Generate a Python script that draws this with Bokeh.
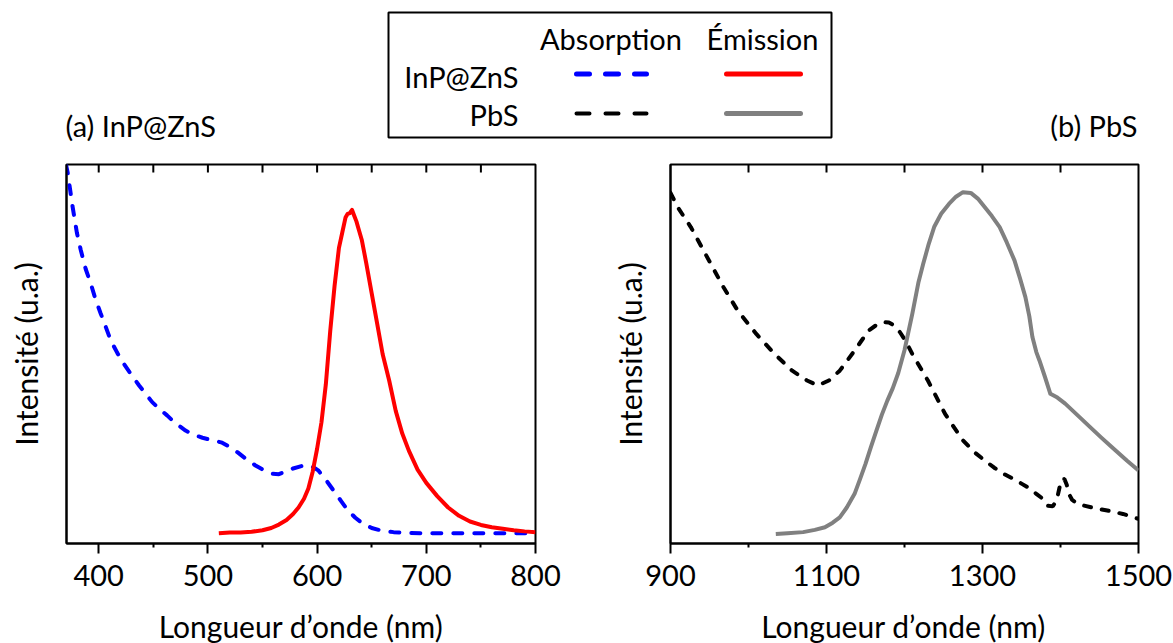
from bokeh.plotting import figure
from bokeh.models import Range1d, LinearAxis, FixedTicker
from bokeh.layouts import column, row
from bokeh.embed import file_html
from bokeh.resources import INLINE
from bokeh.core.properties import value

FONT = "Lato"

# ---------------- data ----------------
# (a) InP@ZnS absorption (blue dashed)
inp_abs_nm = [370, 371.5, 374, 376, 380, 383.5, 388, 392.7, 397, 401.8, 406, 411, 417, 423, 430,
              437, 443, 449, 456, 462.6, 470, 479.5, 487, 495, 505, 513, 520, 527, 535, 544, 552,
              559, 565, 571, 578, 588, 595, 601, 608, 615, 622, 628, 635, 642, 650, 659, 670, 683,
              700, 716, 740, 770, 800]
inp_abs_int = [1.0, 0.98, 0.93, 0.89, 0.82, 0.775, 0.725, 0.686, 0.645, 0.607, 0.575, 0.536, 0.503,
               0.474, 0.445, 0.417, 0.395, 0.373, 0.354, 0.338, 0.318, 0.298, 0.287, 0.279, 0.272,
               0.266, 0.255, 0.241, 0.223, 0.205, 0.192, 0.184, 0.183, 0.190, 0.198, 0.206, 0.204,
               0.193, 0.168, 0.140, 0.112, 0.088, 0.068, 0.052, 0.041, 0.034, 0.030, 0.028, 0.027,
               0.027, 0.027, 0.027, 0.027]

# (a) InP@ZnS emission (red)
inp_em_nm = [510, 520, 530, 540, 550, 558, 565, 572, 578, 583, 588, 592, 596, 600, 604, 608, 612,
             616, 620, 623, 626, 628, 630, 632, 634, 636, 638, 641, 645, 650, 655, 660, 666, 672,
             678, 684, 692, 700, 710, 720, 730, 740, 750, 760, 770, 780, 790, 800]
inp_em_int = [0.027, 0.029, 0.029, 0.031, 0.035, 0.041, 0.050, 0.062, 0.078, 0.095, 0.118, 0.145,
              0.19, 0.25, 0.32, 0.42, 0.56, 0.68, 0.78, 0.82, 0.86, 0.87, 0.872, 0.88, 0.865, 0.85,
              0.83, 0.80, 0.74, 0.66, 0.58, 0.50, 0.43, 0.35, 0.29, 0.245, 0.195, 0.16, 0.125,
              0.095, 0.073, 0.058, 0.049, 0.043, 0.039, 0.035, 0.032, 0.030]

# (b) PbS absorption (black dashed)
pbs_abs_nm = [900, 910, 926, 940, 954, 968, 986, 1010, 1033, 1056, 1075, 1089, 1103, 1117, 1136,
              1154, 1165, 1173, 1180, 1187, 1194, 1201, 1210, 1220, 1230, 1240, 1252, 1264, 1275,
              1290, 1303, 1315, 1327, 1340, 1350, 1360, 1369, 1376, 1383, 1390, 1395, 1399, 1402,
              1405, 1408, 1411, 1415, 1422, 1430, 1445, 1460, 1480, 1500]
pbs_abs_int = [0.925, 0.885, 0.835, 0.782, 0.729, 0.676, 0.615, 0.553, 0.501, 0.456, 0.430, 0.417,
               0.430, 0.456, 0.509, 0.562, 0.578, 0.584, 0.583, 0.575, 0.558, 0.536, 0.50, 0.465,
               0.43, 0.39, 0.342, 0.305, 0.272, 0.24, 0.219, 0.20, 0.184, 0.17, 0.158, 0.146,
               0.131, 0.12, 0.10, 0.098, 0.113, 0.15, 0.17, 0.17, 0.155, 0.13, 0.115, 0.105, 0.100,
               0.093, 0.087, 0.078, 0.065]

# (b) PbS emission (gray)
pbs_em_nm = [1035, 1050, 1070, 1085, 1098, 1108, 1117, 1126, 1136, 1143, 1150, 1157, 1164, 1171,
             1178, 1185, 1192, 1200, 1210, 1218, 1224, 1231, 1238, 1247, 1257, 1266, 1275, 1285,
             1294, 1303, 1312, 1322, 1331, 1341, 1348, 1355, 1360, 1364, 1369, 1373, 1380, 1387,
             1396, 1406, 1420, 1438, 1452, 1466, 1485, 1500]
pbs_em_int = [0.025, 0.027, 0.030, 0.036, 0.043, 0.055, 0.069, 0.095, 0.131, 0.17, 0.21, 0.255,
              0.298, 0.34, 0.377, 0.41, 0.45, 0.51, 0.606, 0.69, 0.738, 0.79, 0.835, 0.87, 0.896,
              0.915, 0.927, 0.925, 0.910, 0.887, 0.864, 0.835, 0.795, 0.747, 0.70, 0.650, 0.60,
              0.545, 0.505, 0.483, 0.44, 0.395, 0.385, 0.369, 0.342, 0.307, 0.28, 0.254, 0.219,
              0.193]

a_ticks = [400, 500, 600, 700, 800]
a_minor = [450, 550, 650, 750]
a_top = [400, 450, 500, 550, 600, 650, 700, 750]
b_ticks = [900, 1100, 1300, 1500]
b_minor = [1000, 1200, 1400]
b_top = [1000, 1100, 1200, 1300, 1400]

x_label = "Longueur d’onde (nm)"
y_label = "Intensité (u.a.)"
legend_cols = ["Absorption", "Émission"]
legend_rows = ["InP@ZnS", "PbS"]
titles = ["(a) InP@ZnS", "(b) PbS"]

TOP_H = 146
ROW_H = 454
STRIP_H = 643 - TOP_H - ROW_H

# ---------------- top band: legend + panel titles ----------------
top = figure(width=1173, height=TOP_H, x_range=Range1d(0, 1173), y_range=Range1d(TOP_H, 0),
             output_backend="svg", toolbar_location=None, min_border=0,
             x_axis_type=None, y_axis_type=None)
top.outline_line_color = None
top.quad(left=[388], right=[831], top=[12], bottom=[137], fill_color=None,
         line_color="black", line_width=2)
top.text(x=[610.5, 762], y=[38, 38], text=legend_cols, text_font=value(FONT),
         text_font_size="29px", text_align="center", text_baseline="middle", text_color="black")
top.text(x=[518, 518], y=[76, 114], text=legend_rows, text_font=value(FONT),
         text_font_size="29px", text_align="right", text_baseline="middle", text_color="black")
top.line([576, 646], [73.5, 73.5], line_color="#0000FF", line_width=5, line_dash="13 16",
         line_cap="round")
top.line([726, 800], [73.5, 73.5], line_color="#FF0000", line_width=5, line_cap="round")
top.line([576, 646], [113, 113], line_color="black", line_width=4, line_dash="13 16",
         line_cap="round")
top.line([726, 800], [113, 113], line_color="#808080", line_width=5, line_cap="round")
top.text(x=[65], y=[125], text=[titles[0]], text_font=value(FONT), text_font_size="29px",
         text_align="left", text_baseline="middle", text_color="black")
top.text(x=[1137], y=[125], text=[titles[1]], text_font=value(FONT), text_font_size="29px",
         text_align="right", text_baseline="middle", text_color="black")


def make_panel(width, bl, br, xr, major, minor, top_ticks):
    p = figure(width=width, height=ROW_H, x_range=Range1d(*xr), y_range=Range1d(0, 1),
               output_backend="svg", toolbar_location=None,
               min_border_left=bl, min_border_right=br, min_border_top=18, min_border_bottom=57,
               x_axis_type=None, y_axis_type=None)
    p.outline_line_color = "black"
    p.outline_line_width = 2
    p.grid.visible = False

    xb = LinearAxis(ticker=FixedTicker(ticks=major, minor_ticks=minor))
    xb.axis_line_width = 2
    xb.major_tick_line_width = 2
    xb.minor_tick_line_width = 2
    xb.major_tick_in = 0
    xb.major_tick_out = 10
    xb.minor_tick_in = 0
    xb.minor_tick_out = 4
    xb.major_label_text_font = FONT
    xb.major_label_text_font_size = "29px"
    xb.major_label_text_color = "black"
    xb.major_label_standoff = 11
    p.add_layout(xb, "below")

    # inward ticks along the top edge of the frame
    p.segment(x0=top_ticks, x1=top_ticks, y0=[1.0] * len(top_ticks),
              y1=[1.0 - 8 / 379] * len(top_ticks), line_color="black", line_width=2)

    yl = LinearAxis(ticker=FixedTicker(ticks=[], minor_ticks=[]))
    yl.axis_line_width = 2
    yl.major_tick_in = 0
    yl.major_tick_out = 0
    yl.minor_tick_in = 0
    yl.minor_tick_out = 0
    yl.major_label_standoff = 0
    yl.axis_label = y_label
    yl.axis_label_text_font = FONT
    yl.axis_label_text_font_size = "30px"
    yl.axis_label_text_font_style = "normal"
    yl.axis_label_text_color = "black"
    yl.axis_label_standoff = 23
    p.add_layout(yl, "left")
    return p


pa = make_panel(608, 66, 73, (370.5, 800), a_ticks, a_minor, a_top)
pa.line(inp_abs_nm, inp_abs_int, line_color="#0000FF", line_width=4, line_dash="9 12",
        line_cap="round")
pa.line(inp_em_nm, inp_em_int, line_color="#FF0000", line_width=4, line_join="round")

pb = make_panel(565, 60, 35, (900, 1500), b_ticks, b_minor, b_top)
pb.line(pbs_abs_nm, pbs_abs_int, line_color="black", line_width=4, line_dash="7 11",
        line_cap="round")
pb.line(pbs_em_nm, pbs_em_int, line_color="#808080", line_width=4, line_join="round")

# ---------------- bottom strip: x-axis titles centred under each frame ----------------
strip = figure(width=1173, height=STRIP_H, x_range=Range1d(0, 1173),
               y_range=Range1d(STRIP_H, 0), output_backend="svg", toolbar_location=None,
               min_border=0, x_axis_type=None, y_axis_type=None)
strip.outline_line_color = None
strip.text(x=[300.5, 903], y=[25, 25], text=[x_label, x_label], text_font=value(FONT),
           text_font_size="30px", text_align="center", text_baseline="middle",
           text_color="black")

layout = column(top, row(pa, pb), strip)
open("out.html", "w").write(file_html(layout, INLINE))
